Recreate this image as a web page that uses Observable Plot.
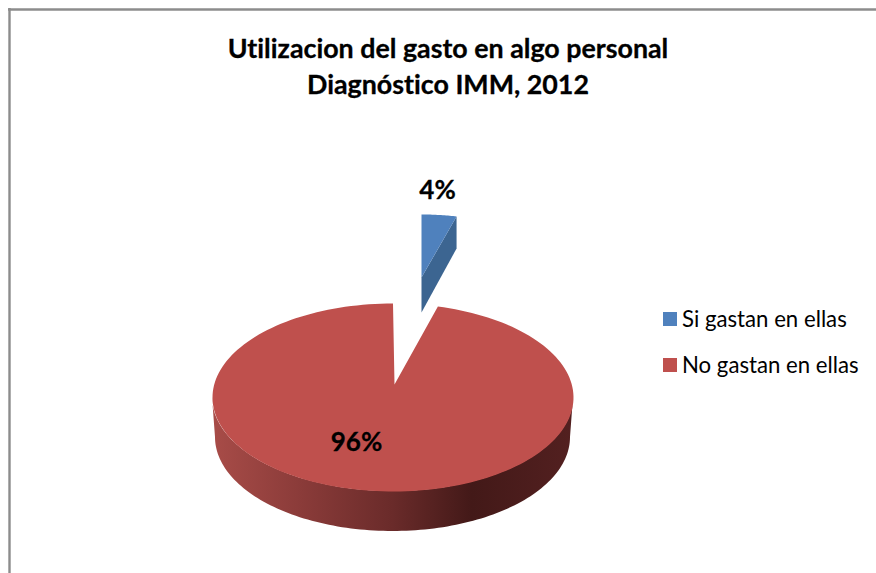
<!DOCTYPE html>
<html>
<head>
<meta charset="utf-8">
<script src="https://cdn.jsdelivr.net/npm/d3@7"></script>
<script src="https://cdn.jsdelivr.net/npm/@observablehq/plot@0.6"></script>
<style>
  html, body { margin: 0; padding: 0; background: #fff; }
  #chart { position: relative; width: 876px; height: 573px; overflow: hidden; font-family: Lato, "Open Sans", sans-serif; font-variant-ligatures: none; }
  #chart svg { position: absolute; left: 0; top: 0; }
  #title { position: absolute; left: 20px; width: 856px; top: 30px; text-align: center; font-weight: 700; font-size: 26.8px; line-height: 36px; color: #000; -webkit-text-stroke: 0.3px #000; }
  #legend { position: absolute; left: 663px; top: 305px; font-size: 22.2px; color: #000; }
  .item { position: absolute; left: 0; white-space: nowrap; height: 28px; line-height: 28px; }
  .item i { position: absolute; left: 0; top: 7px; width: 14px; height: 14px; }
  .item span { position: absolute; left: 19px; top: 0; }
</style>
</head>
<body>
<div id="chart">
  <div id="title"></div>
  <div id="legend"></div>
</div>
<script>
// Data
const categories = ["Si gastan en ellas", "No gastan en ellas"];
const percents = [4, 96];
const colors = ["#4F81BD", "#BF504D"];
const titleLines = ["Utilizacion del gasto en algo personal", "Diagnóstico IMM, 2012"];

// Pie geometry (layout only)
const W = 876, H = 573;
const slices = d3.pie().sort(null).value(d => d)(percents);
const redTop = {cx: 392.5, cy: 397, rx: 180.5, ry: 94, ax: 394, ay: 384};
const redBot = {cx: 392.5, cy: 437, rx: 177.5, ry: 94};
const blue = {ax: 421, ay: 277, rx: 141, ry: 63, depth: 33};

const arcPts = (g, a0, a1) => d3.range(0, 181).map(i => {
  const t = a0 + (a1 - a0) * i / 180;
  return {x: g.cx + g.rx * Math.sin(t), y: g.cy - g.ry * Math.cos(t)};
});

// top face of large slice
const red = slices[1];
const redFace = [{x: redTop.ax, y: redTop.ay}, ...arcPts(redTop, red.startAngle, red.endAngle)];

// wall of large slice (front half of the rim)
const wallAngles = d3.range(0, 121).map(i => Math.PI / 2 + Math.PI * i / 120);
const redWall = wallAngles.map(t => ({
  x1: redTop.cx + redTop.rx * Math.sin(t), y1: redTop.cy - redTop.ry * Math.cos(t),
  x2: redBot.cx + redBot.rx * Math.sin(t), y2: redBot.cy - redBot.ry * Math.cos(t)
}));

// small slice
const bs = slices[0];
const bPt = t => ({x: blue.ax + blue.rx * Math.sin(t), y: blue.ay - blue.ry * Math.cos(t)});
const blueArc = d3.range(0, 21).map(i => bPt(bs.startAngle + (bs.endAngle - bs.startAngle) * i / 20));
const blueFace = [{x: blue.ax, y: blue.ay}, ...blueArc];
const blueEnd = blueArc[blueArc.length - 1];
const blueWall = [
  {x: blue.ax, y: blue.ay}, blueEnd,
  {x: blueEnd.x, y: blueEnd.y + blue.depth - 1},
  {x: blue.ax, y: blue.ay + blue.depth + 2}
];

const labels = [
  {text: percents[0] + "%", x: 437, y: 190},
  {text: percents[1] + "%", x: 356, y: 442}
];

// Gradient definition
const gradient = () => {
  const s = d3.create("svg:defs");
  const g = s.append("linearGradient").attr("id", "wallGrad").attr("x1", 0).attr("x2", 1).attr("y1", 0).attr("y2", 0);
  [[0, "#A84C48"], [0.25, "#8A3B39"], [0.5, "#6A2B2A"], [0.72, "#431918"], [1, "#532020"]]
    .forEach(([o, c]) => g.append("stop").attr("offset", o).attr("stop-color", c));
  return s.node();
};

const line = (data, fill) => Plot.line(data, {x: "x", y: "y", fill, stroke: "none", curve: "linear"});

const plot = Plot.plot({
  width: W, height: H,
  margin: 0,
  x: {domain: [0, W], range: [0, W], axis: null},
  y: {domain: [0, H], range: [0, H], axis: null},
  style: {background: "transparent"},
  marks: [
    gradient,
    Plot.ruleX([9], {y1: 8, y2: H, stroke: "#8C8C8C", strokeWidth: 2.4}),
    Plot.ruleY([9], {x1: 8, x2: W, stroke: "#8C8C8C", strokeWidth: 2.4}),
    Plot.area(redWall, {x1: "x1", y1: "y1", x2: "x2", y2: "y2", fill: "url(#wallGrad)"}),
    line(redFace, colors[1]),
    line(blueWall, "#3C6591"),
    line(blueFace, colors[0]),
    Plot.text(labels, {x: "x", y: "y", text: "text", fontSize: 26, fontWeight: 700, fill: "#000", stroke: "#000", strokeWidth: 0.3, fontFamily: "Lato, sans-serif"})
  ]
});
document.getElementById("chart").prepend(plot);

document.getElementById("title").innerHTML = titleLines.map(t => `<div>${t}</div>`).join("");
document.getElementById("legend").innerHTML = categories.map((c, i) =>
  `<div class="item" style="top:${i * 45.5}px"><i style="background:${colors[i]}"></i><span>${c}</span></div>`).join("");
</script>
</body>
</html>
